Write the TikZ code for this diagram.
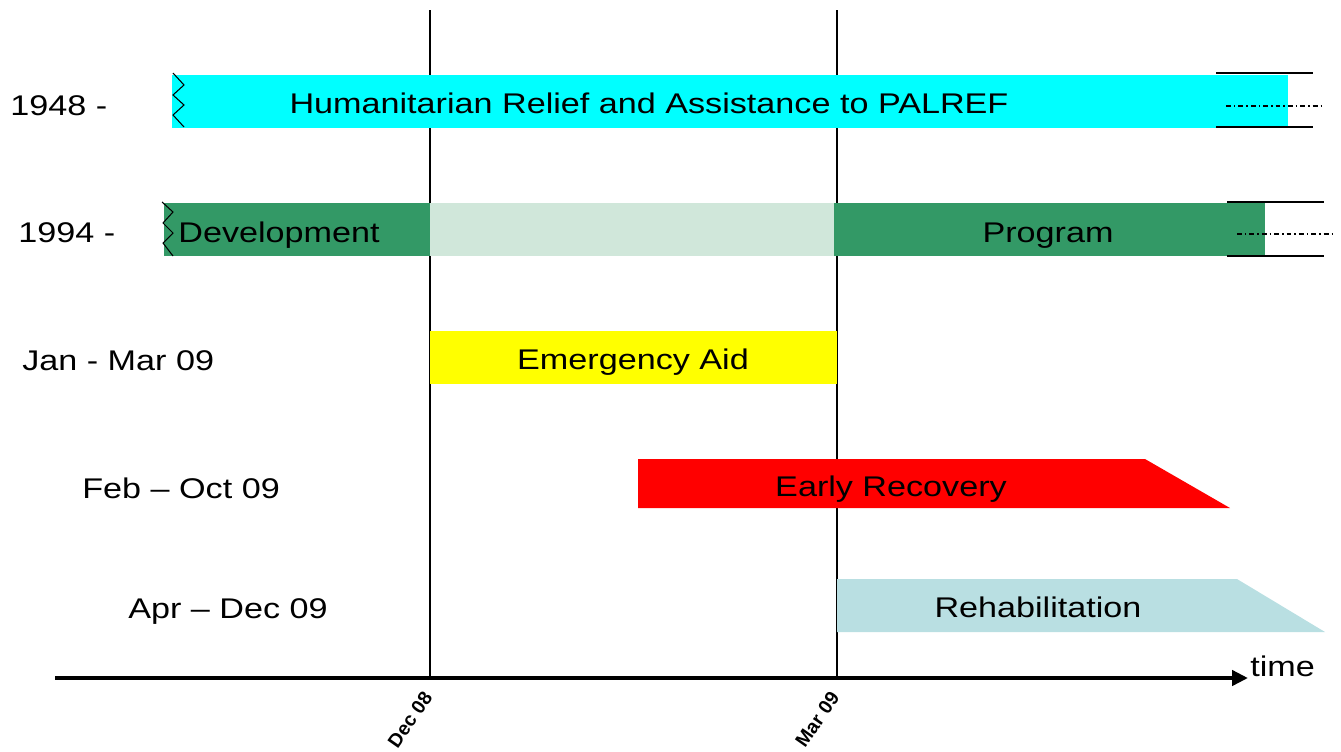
\documentclass[tikz,border=0pt]{standalone}
\usepackage{fontspec}
\setmainfont{Liberation Sans}
\usepackage{graphicx}
\usetikzlibrary{arrows.meta}

\definecolor{aqua}{RGB}{0,255,255}
\definecolor{seagreen}{HTML}{339966}
\definecolor{palegreen}{HTML}{D0E7DA}
\definecolor{sunyellow}{RGB}{255,255,0}
\definecolor{brightred}{RGB}{255,0,0}
\definecolor{rehabblue}{HTML}{B9DFE2}
\newcommand{\wide}[1]{\scalebox{1.2}[1]{#1}}

\begin{document}
\begin{tikzpicture}[x=0.02cm, y=-0.02cm,
  lbl/.style = {inner sep=0pt, font=\fontsize{16.2}{19}\selectfont},
  tick/.style = {inner sep=0pt, font=\fontsize{11}{13}\selectfont\bfseries, rotate=55, anchor=east},
  guide/.style = {line width=0.8pt},
  zig/.style = {line width=0.6pt},
  endline/.style = {line width=1.1pt},
  cont/.style = {line width=0.7pt, dash pattern=on 2.8pt off 1.7pt on 0.85pt off 1.7pt},
  axis/.style = {line width=2.8pt, -{Triangle[length=9pt,width=8.5pt]}}
]
\useasboundingbox (0,0) rectangle (1341,751);

% Guides (behind the bars)
\coordinate (dectop) at (430,10);
\coordinate (decbot) at (430,678);
\coordinate (martop) at (837,10);
\coordinate (marbot) at (837,678);
\draw[guide] (dectop) -- (decbot);
\draw[guide] (martop) -- (marbot);

% Bars
\fill[aqua] (172,75) rectangle (1288,128);
\fill[seagreen] (164,203) rectangle (430,256);
\fill[palegreen] (430,203) rectangle (834,256);
\fill[seagreen] (834,203) rectangle (1265,256);
\fill[sunyellow] (430,331) rectangle (837,384);
\fill[brightred] (638,459) -- (1145,459) -- (1230,508) -- (638,508) -- cycle;
\fill[rehabblue] (837,579) -- (1237,579) -- (1325,632) -- (837,632) -- cycle;

% Torn left edges
\draw[zig] (173,73) -- (184,85) -- (173,95) -- (184,105) -- (173,115) -- (184,127);
\draw[zig] (162,202) -- (173,212) -- (163,223) -- (173,233) -- (163,243) -- (173,256);

% Open right ends
\draw[endline] (1216,73) -- (1313,73);
\draw[endline] (1216,127) -- (1313,127);
\draw[cont] (1226,106) -- (1325,106);
\draw[endline] (1227,202) -- (1324,202);
\draw[endline] (1227,256) -- (1324,256);
\draw[cont] (1237,234) -- (1335,234);

% Axis
\coordinate (axstart) at (55,678);
\coordinate (axend) at (1248,678);
\draw[axis] (axstart) -- (axend);
\node[lbl, anchor=base west] at (1250,676) (time) {\wide{time}};

% Tick labels
\node[tick] at (428,694) (dec) {Dec 08};
\node[tick] at (835,694) (mar) {Mar 09};

% Row labels
\node[lbl, anchor=base west] at (10,115) (y1948) {\wide{1948 -}};
\node[lbl, anchor=base west] at (18,242) (y1994) {\wide{1994 -}};
\node[lbl, anchor=base west] at (22,370) (janmar) {\wide{Jan - Mar 09}};
\node[lbl, anchor=base west] at (82,498) (feboct) {\wide{Feb -- Oct 09}};
\node[lbl, anchor=base west] at (128,618) (aprdec) {\wide{Apr -- Dec 09}};

% Bar texts
\node[lbl, anchor=base] at (649,113) (relief) {\wide{Humanitarian Relief and Assistance to PALREF}};
\node[lbl, anchor=base west] at (178,242) (devel) {\wide{Development}};
\node[lbl, anchor=base] at (1048,242) (program) {\wide{Program}};
\node[lbl, anchor=base] at (633,369) (emerg) {\wide{Emergency Aid}};
\node[lbl, anchor=base] at (891,496) (early) {\wide{Early Recovery}};
\node[lbl, anchor=base] at (1038,617) (rehab) {\wide{Rehabilitation}};

\end{tikzpicture}
\end{document}
